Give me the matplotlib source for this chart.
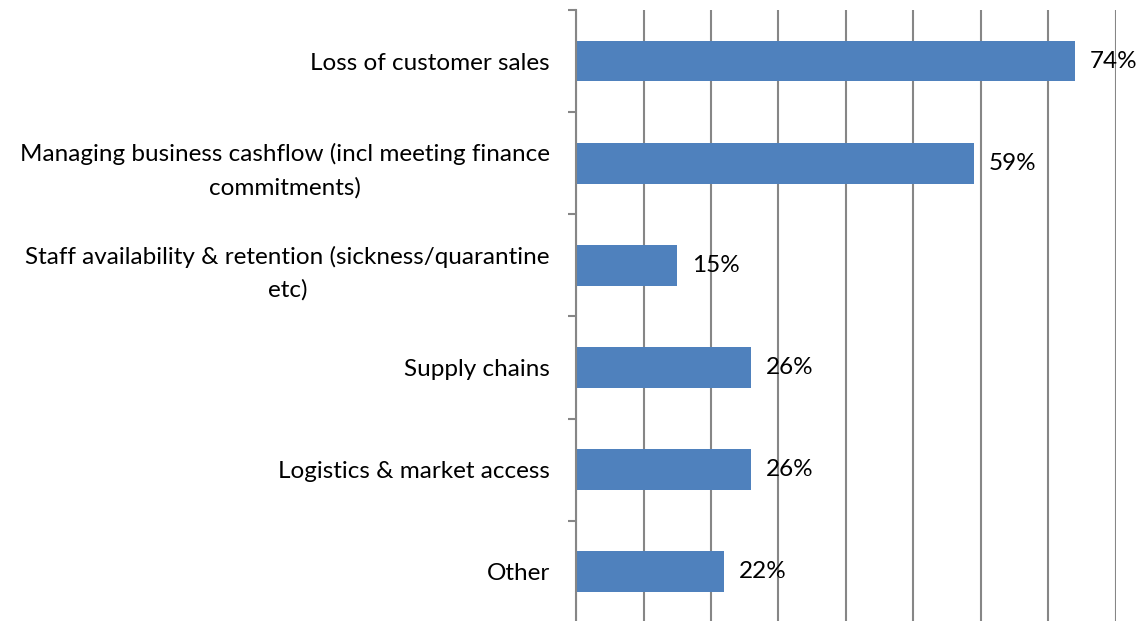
import numpy as np
import matplotlib.pyplot as plt

plt.rcParams['font.family'] = ['Lato', 'DejaVu Sans']

categories = ['Loss of customer sales',
              'Managing business cashflow (incl meeting finance\ncommitments)',
              'Staff availability & retention (sickness/quarantine\netc)',
              'Supply chains',
              'Logistics & market access',
              'Other']
values = [74, 59, 15, 26, 26, 22]

grid_col = '#868686'
bar_col = '#4F81BD'

fig = plt.figure(figsize=(11.43, 6.21), dpi=100)
ax = fig.add_axes([0.504, -0.003, 0.472, 0.987])

y = np.arange(len(categories))
ax.barh(y, values, height=0.4, color=bar_col, zorder=3)

for yi, v in zip(y, values):
    ax.text(v + 2.2, yi, f'{v}%', va='center', ha='left', fontsize=17.5, zorder=4)

ax.set_xlim(0, 80)
ax.set_ylim(len(categories) - 0.5, -0.5)
ax.set_xticks(np.arange(0, 81, 10))
ax.tick_params(axis='x', length=0, labelbottom=False)
ax.grid(axis='x', color=grid_col, linewidth=1.5, zorder=1)

ax.set_yticks(y)
ax.set_yticklabels(categories, fontsize=17.5)
for lab in ax.get_yticklabels():
    lab.set_multialignment('center')
    lab.set_linespacing(1.65)
ax.set_yticks(np.arange(-0.5, len(categories)), minor=True)
ax.tick_params(axis='y', which='major', length=0, pad=19)
ax.tick_params(axis='y', which='minor', length=6, width=1.5, color=grid_col)

for s in ['top', 'right', 'bottom']:
    ax.spines[s].set_visible(False)
ax.spines['left'].set_color(grid_col)
ax.spines['left'].set_linewidth(1.5)
ax.spines['left'].set_zorder(5)

fig.savefig('out.png', dpi=100)
